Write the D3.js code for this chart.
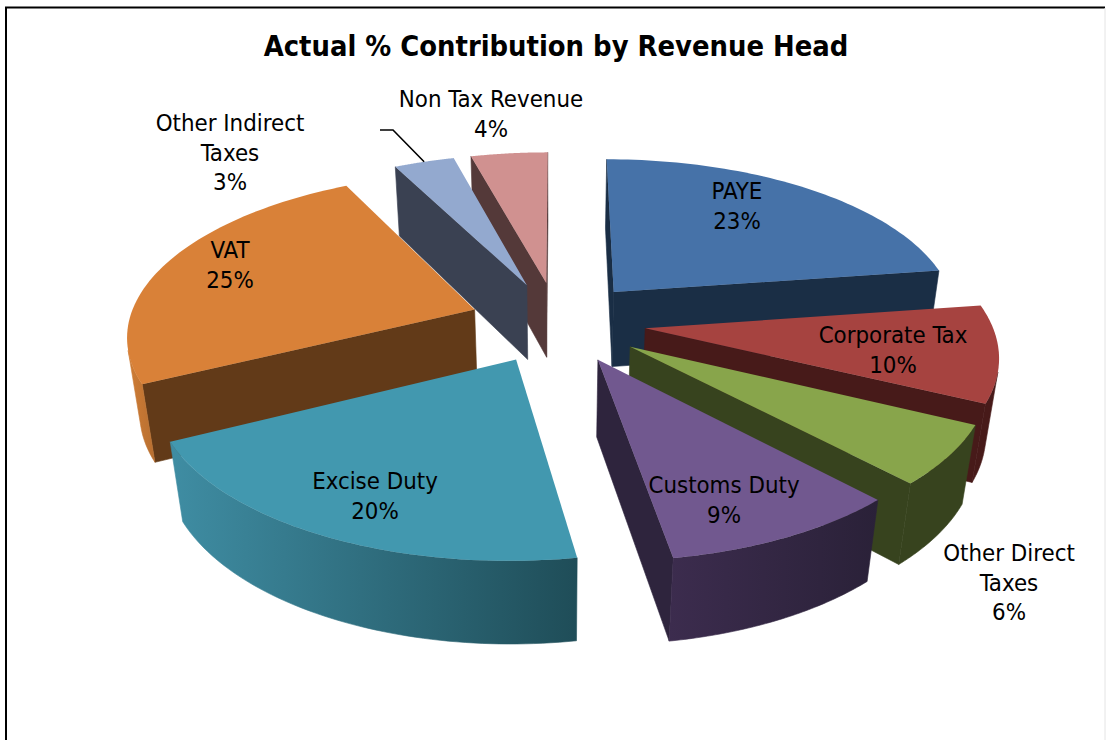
<!DOCTYPE html>
<html>
<head>
<meta charset="utf-8">
<script src="https://cdn.jsdelivr.net/npm/d3@7"></script>
<style>
  body { margin: 0; background: #fff; }
  text { font-family: "DejaVu Sans", sans-serif; font-stretch: condensed; fill: #000; }
</style>
</head>
<body>
<div id="chart"></div>
<script>
// data, labels show these rounded
var shares = [22.7, 9.5, 5.8, 9.4, 20.2, 24.9, 3.3, 4.2];
var labelLines = [["PAYE"], ["Corporate Tax"], ["Other Direct", "Taxes"], ["Customs Duty"],
  ["Excise Duty"], ["VAT"], ["Other Indirect", "Taxes"], ["Non Tax Revenue"]];

// colours
var topColors = ["#4672a8", "#a64340", "#88a54b", "#71588f", "#4298af", "#d98138", "#93a9cf", "#d09190"];
var wallColors = ["#1a2e45", "#471a19", "#37431e", "#2e243d", "#1f4d58", "#623a18", "#3a4152", "#543939"];
var sideLeft = ["#1a2e45", "#471a19", "#37431e", "#3c2c4e", "#3f8da3", "#cf7d36", "#3a4152", "#543939"];
var sideRight = ["#1a2e45", "#471a19", "#37431e", "#2a2138", "#1f4d58", "#b86f30", "#3a4152", "#543939"];

// label layout, centre x and first baseline for each head
var labelX = [737, 893, 1009, 724, 375, 230, 230, 491];
var labelY = [199, 343, 561, 493, 489, 258, 131, 107];

var svgWidth = 1106;
var svgHeight = 740;

var svg = d3.select("#chart")
  .append("svg")
  .attr("width", svgWidth)
  .attr("height", svgHeight);

var defs = svg.append("defs");

// chart frame
svg.append("path")
  .attr("d", "M6,740V7.5H1105")
  .attr("fill", "none")
  .attr("stroke", "#000")
  .attr("stroke-width", 2);
svg.append("line")
  .attr("x1", 1105).attr("x2", 1105).attr("y1", 8).attr("y2", 740)
  .attr("stroke", "#e4e4e4");

svg.append("text")
  .attr("x", 556)
  .attr("y", 56)
  .attr("text-anchor", "middle")
  .style("font-size", "28.8px")
  .style("font-weight", "bold")
  .text("Actual % Contribution by Revenue Head");

// perspective view of the pie, plane x/y run -1..1, z 0..1 is the thickness
var xScale = d3.scaleLinear().domain([-1, 1]).range([-346, 346]);
var yScale = d3.scaleLinear().domain([-1, 1]).range([-160, 160]);
var zScale = d3.scaleLinear().domain([0, 1]).range([0, 78]);
var centerX = 557.5;
var centerY = 322;
var perspective = 0.145;
var sink = 0.03;
var explode = 0.255;

function project(x, y, z) {
  var w = 1 - perspective * y + sink * z;
  return [centerX + xScale(x) / w, centerY + (yScale(y) + zScale(z)) / w];
}

var pie = d3.pie().sort(null);
var arcs = pie(shares);

var line = d3.line();

function polygon(points) {
  return line(points) + "Z";
}

var slices = arcs.map(function(d, i) {
  var mid = (d.startAngle + d.endAngle) / 2;
  return {
    index: i,
    start: d.startAngle,
    end: d.endAngle,
    mid: mid,
    ax: explode * Math.sin(mid),
    ay: -explode * Math.cos(mid)
  };
});

// back slices first
slices.sort(function(a, b) { return Math.cos(b.mid) - Math.cos(a.mid); });

function rim(s, angle, z) {
  return project(s.ax + Math.sin(angle), s.ay - Math.cos(angle), z);
}

slices.forEach(function(s) {
  var i = s.index;
  var g = svg.append("g");
  var apexTop = project(s.ax, s.ay, 0);
  var apexBottom = project(s.ax, s.ay, 1);

  // cut walls
  var startWall = [apexTop, rim(s, s.start, 0), rim(s, s.start, 1), apexBottom];
  var endWall = [rim(s, s.end, 0), apexTop, apexBottom, rim(s, s.end, 1)];
  [startWall, endWall].forEach(function(wall) {
    if (d3.polygonArea(wall) > 0) {
      g.append("path")
        .attr("d", polygon(wall))
        .attr("fill", wallColors[i])
        .attr("stroke", wallColors[i])
        .attr("stroke-width", 0.6);
    }
  });

  // outer curved side, only the part that faces us
  var steps = d3.range(0, 61).map(function(k) {
    return s.start + (s.end - s.start) * k / 60;
  });
  var visible = [];
  d3.pairs(steps).forEach(function(p) {
    var quad = [rim(s, p[0], 0), rim(s, p[1], 0), rim(s, p[1], 1), rim(s, p[0], 1)];
    if (d3.polygonArea(quad) > 0) {
      if (!visible.length) visible.push(p[0]);
      visible.push(p[1]);
    }
  });
  if (visible.length) {
    var upper = visible.map(function(a) { return rim(s, a, 0); });
    var lower = visible.map(function(a) { return rim(s, a, 1); }).reverse();
    var xs = upper.concat(lower).map(function(p) { return p[0]; });
    var grad = defs.append("linearGradient")
      .attr("id", "side" + i)
      .attr("gradientUnits", "userSpaceOnUse")
      .attr("x1", d3.min(xs)).attr("x2", d3.max(xs))
      .attr("y1", 0).attr("y2", 0);
    grad.append("stop").attr("offset", 0).attr("stop-color", sideLeft[i]);
    grad.append("stop").attr("offset", 1).attr("stop-color", sideRight[i]);
    g.append("path")
      .attr("d", polygon(upper.concat(lower)))
      .attr("fill", "url(#side" + i + ")")
      .attr("stroke", "url(#side" + i + ")")
      .attr("stroke-width", 0.6);
  }

  // top face
  var face = [apexTop].concat(steps.map(function(a) { return rim(s, a, 0); }));
  g.append("path")
    .attr("d", polygon(face))
    .attr("fill", topColors[i]);
});

// leader line for Other Indirect Taxes
var leaderAnchor = rim(slices.filter(function(s) { return s.index === 6; })[0], arcs[6].startAngle + 0.5 * (arcs[6].endAngle - arcs[6].startAngle), 0);
svg.append("path")
  .attr("d", line([[380, 130], [393, 130], leaderAnchor]))
  .attr("fill", "none")
  .attr("stroke", "#000")
  .attr("stroke-width", 1.6);

// labels
labelLines.forEach(function(lines, i) {
  var t = svg.append("text")
    .attr("text-anchor", "middle")
    .style("font-size", "23.8px");
  lines.concat(Math.round(shares[i]) + "%").forEach(function(txt, k) {
    t.append("tspan")
      .attr("x", labelX[i])
      .attr("y", labelY[i] + k * 29.5)
      .text(txt);
  });
});
</script>
</body>
</html>
